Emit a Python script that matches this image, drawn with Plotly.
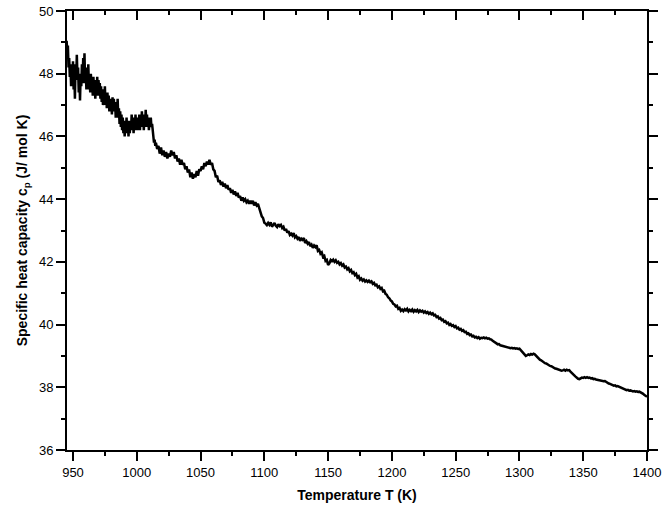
import numpy as np
import plotly.graph_objects as go

# Segment 1: 945.0 .. 1014.5 K, step 0.5 K (noisy region)
seg1_start, seg1_step = 945.0, 0.5
seg1_cp = [
    49.05, 48.7, 48.9, 48.2, 48.5, 47.9, 48.3, 47.6, 48.2, 47.8,
    48.4, 47.5, 48.1, 47.2, 48.3, 47.8, 48.6, 47.9, 48.2, 47.4,
    47.9, 47.15, 48.0, 47.6, 48.3, 47.7, 48.5, 47.8, 48.65, 47.7,
    48.2, 47.5, 48.1, 47.6, 48.3, 47.5, 47.9, 47.4, 48.0, 47.6,
    47.8, 47.3, 47.9, 47.5, 47.7, 47.2, 47.8, 47.4, 47.9, 47.3,
    47.8, 47.5, 47.7, 47.2, 47.6, 47.1, 47.5, 47.0, 47.4, 47.1,
    47.6, 47.0, 47.3, 46.9, 47.4, 47.0, 47.3, 46.8, 47.2, 46.9,
    47.1, 46.7, 47.25, 46.9, 47.2, 46.8, 47.1, 46.6, 47.0, 46.7,
    47.2, 46.6, 46.9, 46.4, 46.8, 46.3, 46.7, 46.2, 46.6, 46.1,
    46.5, 46.0, 46.4, 46.2, 46.6, 46.1, 46.5, 46.0, 46.3, 46.1,
    46.5, 46.2, 46.7, 46.3, 46.6, 46.1, 46.5, 46.2, 46.7, 46.3,
    46.6, 46.2, 46.5, 46.3, 46.7, 46.2, 46.6, 46.3, 46.8, 46.4,
    46.7, 46.2, 46.6, 46.3, 46.85, 46.4, 46.7, 46.3, 46.6, 46.2,
    46.5, 46.3, 46.6, 46.3, 46.4, 46.1, 46.0, 45.8, 45.9, 45.7,
]

# Segment 2: 1015 .. 1100 K, step 1 K
seg2_start, seg2_step = 1015.0, 1.0
seg2_cp = [
    45.8, 45.6, 45.7, 45.45, 45.65, 45.4, 45.55, 45.35, 45.5, 45.3,
    45.45, 45.35, 45.55, 45.4, 45.5, 45.3, 45.4, 45.2, 45.3, 45.1,
    45.25, 45.1, 45.15, 44.95, 45.05, 44.85, 44.95, 44.7, 44.85, 44.65,
    44.8, 44.7, 44.9, 44.75, 44.95, 44.9, 45.05, 44.95, 45.15, 45.05,
    45.2, 45.1, 45.25, 45.1, 45.15, 44.95, 44.9, 44.7, 44.75, 44.55,
    44.6, 44.45, 44.55, 44.4, 44.5, 44.35, 44.45, 44.3, 44.35, 44.2,
    44.3, 44.15, 44.25, 44.1, 44.2, 44.05, 44.1, 43.95, 44.05, 43.95,
    44.0, 43.9, 43.95, 43.85, 43.95, 43.85, 43.95, 43.8, 43.9, 43.8,
    43.85, 43.7, 43.6, 43.45, 43.4, 43.25,
]

# Segment 3: 1101 .. 1400 K, step 1 K (small jitter)
seg3_start, seg3_step = 1101.0, 1.0
seg3_cp = [
    43.22, 43.17, 43.24, 43.18, 43.26, 43.12, 43.18, 43.24, 43.15, 43.11,
    43.2, 43.14, 43.18, 43.08, 43.12, 43.0, 43.05, 42.93, 42.98, 42.86,
    42.9, 42.84, 42.92, 42.78, 42.82, 42.74, 42.79, 42.67, 42.74, 42.7,
    42.76, 42.6, 42.66, 42.58, 42.63, 42.5, 42.55, 42.45, 42.52, 42.47,
    42.53, 42.35, 42.38, 42.26, 42.3, 42.16, 42.19, 42.03, 42.06, 41.9,
    41.95, 42.06, 42.02, 42.07, 42.0, 42.05, 41.97, 42.0, 41.92, 41.96,
    41.88, 41.92, 41.82, 41.85, 41.76, 41.8, 41.7, 41.74, 41.64, 41.67,
    41.58, 41.62, 41.5, 41.54, 41.43, 41.47, 41.4, 41.44, 41.37, 41.41,
    41.36, 41.4, 41.35, 41.38, 41.3, 41.33, 41.25, 41.27, 41.19, 41.22,
    41.14, 41.17, 41.06, 41.08, 40.98, 40.95, 40.87, 40.84, 40.77, 40.74,
    40.66, 40.64, 40.58, 40.6, 40.5, 40.53, 40.44, 40.48, 40.43, 40.49,
    40.45, 40.5, 40.42, 40.47, 40.43, 40.48, 40.41, 40.46, 40.42, 40.47,
    40.4, 40.45, 40.41, 40.44, 40.38, 40.42, 40.37, 40.4, 40.34, 40.38,
    40.33, 40.36, 40.29, 40.31, 40.24, 40.26, 40.19, 40.21, 40.14, 40.16,
    40.09, 40.11, 40.04, 40.06, 39.99, 40.02, 39.96, 39.98, 39.92, 39.95,
    39.88, 39.9, 39.84, 39.86, 39.8, 39.82, 39.76, 39.77, 39.7, 39.72,
    39.66, 39.68, 39.62, 39.64, 39.59, 39.61, 39.57, 39.6, 39.55, 39.58,
    39.57, 39.59, 39.56, 39.58, 39.55, 39.56, 39.53, 39.52, 39.48, 39.46,
    39.42, 39.4, 39.37, 39.38, 39.34, 39.33, 39.3, 39.31, 39.28, 39.29,
    39.26, 39.27, 39.25, 39.26, 39.24, 39.25, 39.23, 39.24, 39.22, 39.23,
    39.18, 39.14, 39.1, 39.05, 39.0, 39.02, 39.05, 39.03, 39.06, 39.04,
    39.07, 39.05, 39.0, 38.95, 38.93, 38.88, 38.86, 38.82, 38.8, 38.77,
    38.76, 38.73, 38.72, 38.68, 38.67, 38.64, 38.63, 38.6, 38.59, 38.57,
    38.56, 38.54, 38.53, 38.54, 38.56, 38.53, 38.56, 38.54, 38.55, 38.5,
    38.45, 38.42, 38.38, 38.34, 38.3, 38.27, 38.26, 38.29, 38.31, 38.3,
    38.32, 38.3, 38.32, 38.3, 38.31, 38.28, 38.29, 38.26, 38.27, 38.25,
    38.24, 38.23, 38.22, 38.2, 38.21, 38.19, 38.2, 38.17, 38.15, 38.12,
    38.11, 38.09, 38.08, 38.05, 38.06, 38.03, 38.04, 38.02, 38.0, 37.97,
    37.96, 37.94, 37.93, 37.91, 37.92, 37.89, 37.9, 37.88, 37.87, 37.88,
    37.86, 37.87, 37.85, 37.86, 37.84, 37.82, 37.79, 37.75, 37.72, 37.7,
]

x_range = [945.3, 1400]
y_range = [36, 50]
x_ticks = [950, 1000, 1050, 1100, 1150, 1200, 1250, 1300, 1350, 1400]
y_ticks = [36, 38, 40, 42, 44, 46, 48, 50]

T = np.concatenate([
    seg1_start + seg1_step * np.arange(len(seg1_cp)),
    seg2_start + seg2_step * np.arange(len(seg2_cp)),
    seg3_start + seg3_step * np.arange(len(seg3_cp)),
])
cp = np.concatenate([seg1_cp, seg2_cp, seg3_cp])

font_family = "Liberation Sans, Arial, sans-serif"

fig = go.Figure()
fig.add_trace(go.Scatter(x=T, y=cp, mode="lines",
                         line=dict(color="black", width=2.5),
                         showlegend=False, hoverinfo="skip"))
# invisible helper trace so the mirror axes are drawn
fig.add_trace(go.Scatter(x=[x_range[0]], y=[y_range[0]], xaxis="x2", yaxis="y2",
                         mode="markers", marker=dict(opacity=0),
                         showlegend=False, hoverinfo="skip"))

common = dict(showgrid=False, zeroline=False, showline=True, automargin=False,
              linecolor="black", linewidth=2, tickcolor="black",
              tickwidth=1.6, ticklen=9)

fig.update_layout(
    width=663, height=506,
    margin=dict(l=67, r=16, t=11, b=56),
    paper_bgcolor="white", plot_bgcolor="white",
    font=dict(family=font_family, color="black", size=13),
    xaxis=dict(range=x_range, tickvals=x_ticks, ticks="outside",
               minor=dict(dtick=25, tick0=950, ticklen=4, tickwidth=1.6,
                          ticks="outside", tickcolor="black"),
               title=dict(text="<b>Temperature T (K)</b>",
                          font=dict(size=14), standoff=12),
               tickfont=dict(size=13), **common),
    yaxis=dict(range=y_range, tickvals=y_ticks, ticks="outside",
               minor=dict(dtick=1, tick0=36, ticklen=4, tickwidth=1.6,
                          ticks="outside", tickcolor="black"),
               title=dict(text="<b>Specific heat capacity c<sub>p</sub> (J/ mol K)</b>",
                          font=dict(size=14), standoff=8),
               tickfont=dict(size=13), **common),
    xaxis2=dict(range=x_range, overlaying="x", side="top", anchor="y",
                tickvals=x_ticks, ticks="inside", showticklabels=False,
                minor=dict(dtick=25, tick0=950, ticklen=4, tickwidth=1.6,
                           ticks="inside", tickcolor="black"),
                **common),
    yaxis2=dict(range=y_range, overlaying="y", side="right", anchor="x",
                tickvals=y_ticks, ticks="outside", showticklabels=False,
                minor=dict(dtick=1, tick0=36, ticklen=4, tickwidth=1.6,
                           ticks="outside", tickcolor="black"),
                **common),
)

fig.write_html("out.html")
